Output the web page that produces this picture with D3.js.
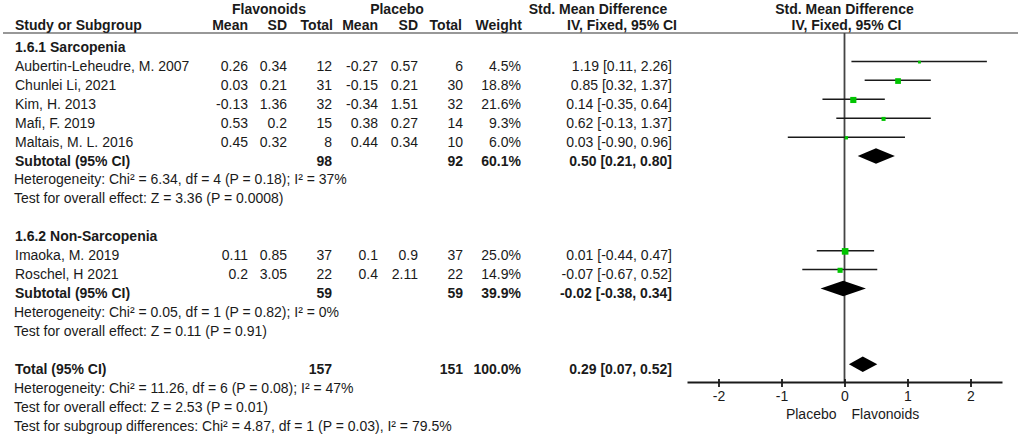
<!DOCTYPE html>
<html>
<head>
<meta charset="utf-8">
<script src="https://cdn.jsdelivr.net/npm/d3@7"></script>
<style>
  body { margin: 0; background: #fff; }
  svg text { font-family: "Liberation Sans", Arial, sans-serif; font-size: 14px; fill: #1a1a1a; }
  svg text.bold { font-weight: bold; }
</style>
</head>
<body>
<div id="chart"></div>
<script>
// individual studies
const studies = ["Aubertin-Leheudre, M. 2007", "Chunlei Li, 2021", "Kim, H. 2013", "Mafi, F. 2019",
  "Maltais, M. L. 2016", "Imaoka, M. 2019", "Roschel, H 2021"];
const studyGroup = [0, 0, 0, 0, 0, 1, 1];
const flavMean = [0.26, 0.03, -0.13, 0.53, 0.45, 0.11, 0.2];
const flavSD = [0.34, 0.21, 1.36, 0.2, 0.32, 0.85, 3.05];
const flavN = [12, 31, 32, 15, 8, 37, 22];
const placMean = [-0.27, -0.15, -0.34, 0.38, 0.44, 0.1, 0.4];
const placSD = [0.57, 0.21, 1.51, 0.27, 0.34, 0.9, 2.11];
const placN = [6, 30, 32, 14, 10, 37, 22];
const weight = [4.5, 18.8, 21.6, 9.3, 6.0, 25.0, 14.9];
const smd = [1.19, 0.85, 0.14, 0.62, 0.03, 0.01, -0.07];
const ciLow = [0.11, 0.32, -0.35, -0.13, -0.90, -0.44, -0.67];
const ciHigh = [2.26, 1.37, 0.64, 1.37, 0.96, 0.47, 0.52];

// subgroups, last entry is the overall total
const groupNames = ["1.6.1 Sarcopenia", "1.6.2 Non-Sarcopenia"];
const pooledLabel = ["Subtotal (95% CI)", "Subtotal (95% CI)", "Total (95% CI)"];
const pooledFlavN = [98, 59, 157];
const pooledPlacN = [92, 59, 151];
const pooledWeight = [60.1, 39.9, 100.0];
const pooledSmd = [0.50, -0.02, 0.29];
const pooledLow = [0.21, -0.38, 0.07];
const pooledHigh = [0.80, 0.34, 0.52];
const pooledNotes = [
  ["Heterogeneity: Chi² = 6.34, df = 4 (P = 0.18); I² = 37%", "Test for overall effect: Z = 3.36 (P = 0.0008)"],
  ["Heterogeneity: Chi² = 0.05, df = 1 (P = 0.82); I² = 0%", "Test for overall effect: Z = 0.11 (P = 0.91)"],
  ["Heterogeneity: Chi² = 11.26, df = 6 (P = 0.08); I² = 47%", "Test for overall effect: Z = 2.53 (P = 0.01)",
   "Test for subgroup differences: Chi² = 4.87, df = 1 (P = 0.03), I² = 79.5%"]
];

// axis
const xTicks = [-2, -1, 0, 1, 2];
const favourLabels = ["Placebo", "Flavonoids"];

// build row list (one entry per text line)
const rows = [];
groupNames.forEach((g, gi) => {
  rows.push({type: "group", label: g});
  studies.forEach((s, i) => { if (studyGroup[i] === gi) rows.push({type: "study", i: i}); });
  rows.push({type: "pooled", k: gi});
  pooledNotes[gi].forEach(t => rows.push({type: "note", label: t}));
  rows.push({type: "blank"});
});
rows.push({type: "pooled", k: 2});
pooledNotes[2].forEach(t => rows.push({type: "note", label: t}));

const width = 1021, height = 436;
const axisY = 382;

// Scales
const yRow = d3.scaleLinear().domain([0, rows.length - 1]).range([52, 430.5]);
const x = d3.scaleLinear().domain([-2.5, 2.5]).range([687, 1002]);
const boxSize = d3.scaleSqrt().domain([0, 25]).range([0, 6.6]);

const svg = d3.select("#chart").append("svg")
    .attr("width", width)
    .attr("height", height);

const fmt2 = d3.format(".2f");
const hy = s => s.replace(/\u2212/g, "-");
const ciText = (m, lo, hi) => hy(`${fmt2(m)} [${fmt2(lo)}, ${fmt2(hi)}]`);

// column right edges of the table
const colX = {fMean: 248, fSD: 287, fN: 332, pMean: 378, pSD: 418, pN: 463, w: 521, ci: 672};

function txt(xp, yp, s, anchor, bold) {
  svg.append("text")
    .attr("x", xp).attr("y", yp)
    .attr("text-anchor", anchor || "start")
    .attr("class", bold ? "bold" : null)
    .text(s);
}

// header
txt(269, 14, "Flavonoids", "middle", true);
txt(397, 14, "Placebo", "middle", true);
txt(598, 14, "Std. Mean Difference", "middle", true);
txt(x(0), 14, "Std. Mean Difference", "middle", true);
txt(15, 29.5, "Study or Subgroup", "start", true);
txt(248, 29.5, "Mean", "end", true);
txt(287, 29.5, "SD", "end", true);
txt(333, 29.5, "Total", "end", true);
txt(378, 29.5, "Mean", "end", true);
txt(418, 29.5, "SD", "end", true);
txt(462, 29.5, "Total", "end", true);
txt(522, 29.5, "Weight", "end", true);
txt(677, 29.5, "IV, Fixed, 95% CI", "end", true);
txt(x(0) + 2, 29.5, "IV, Fixed, 95% CI", "middle", true);

svg.append("line")
    .attr("x1", 3).attr("x2", 1018)
    .attr("y1", 33).attr("y2", 33)
    .attr("stroke", "#333").attr("stroke-width", 1.2);

// line of no effect
svg.append("line")
    .attr("x1", x(0)).attr("x2", x(0))
    .attr("y1", 33).attr("y2", axisY)
    .attr("stroke", "#444").attr("stroke-width", 1.8);

// table rows + marks
rows.forEach((r, ri) => {
  const by = yRow(ri);
  const my = by - 9.5;
  if (r.type === "group") {
    txt(15, by, r.label, "start", true);
  } else if (r.type === "note") {
    txt(14, by, r.label);
  } else if (r.type === "study") {
    const i = r.i;
    txt(15, by, studies[i]);
    txt(colX.fMean, by, String(flavMean[i]), "end");
    txt(colX.fSD, by, String(flavSD[i]), "end");
    txt(colX.fN, by, String(flavN[i]), "end");
    txt(colX.pMean, by, String(placMean[i]), "end");
    txt(colX.pSD, by, String(placSD[i]), "end");
    txt(colX.pN, by, String(placN[i]), "end");
    txt(colX.w, by, weight[i].toFixed(1) + "%", "end");
    txt(colX.ci, by, ciText(smd[i], ciLow[i], ciHigh[i]), "end");

    svg.append("line")
        .attr("x1", x(ciLow[i])).attr("x2", x(ciHigh[i]))
        .attr("y1", my).attr("y2", my)
        .attr("stroke", "#1a1a1a").attr("stroke-width", 1.5);
    const s = boxSize(weight[i]);
    svg.append("rect")
        .attr("x", x(smd[i]) - s / 2).attr("y", my + 0.7 - s / 2)
        .attr("width", s).attr("height", s)
        .attr("fill", "#00c400");
  } else if (r.type === "pooled") {
    const k = r.k;
    txt(15, by, pooledLabel[k], "start", true);
    txt(colX.fN, by, String(pooledFlavN[k]), "end", true);
    txt(colX.pN, by, String(pooledPlacN[k]), "end", true);
    txt(colX.w, by, pooledWeight[k].toFixed(1) + "%", "end", true);
    txt(colX.ci, by, ciText(pooledSmd[k], pooledLow[k], pooledHigh[k]), "end", true);

    const h = 7.8;
    svg.append("path")
        .attr("d", `M${x(pooledLow[k])},${my} L${x(pooledSmd[k])},${my - h} L${x(pooledHigh[k])},${my} L${x(pooledSmd[k])},${my + h} Z`)
        .attr("fill", "#000");
  }
});

// x axis
const xAxis = svg.append("g")
    .attr("transform", `translate(0,${axisY})`)
    .call(d3.axisBottom(x)
      .tickValues(xTicks)
      .tickSize(5)
      .tickSizeOuter(0)
      .tickPadding(4.5)
      .tickFormat(d => String(d)));

xAxis.select(".domain").attr("stroke", "#1a1a1a").attr("stroke-width", 1.8);
xAxis.selectAll(".tick line").attr("y1", -3).attr("stroke", "#1a1a1a").attr("stroke-width", 1.8);

txt(x(0) - 8, 419, favourLabels[0], "end");
txt(x(0) + 7, 419, favourLabels[1], "start");
</script>
</body>
</html>
